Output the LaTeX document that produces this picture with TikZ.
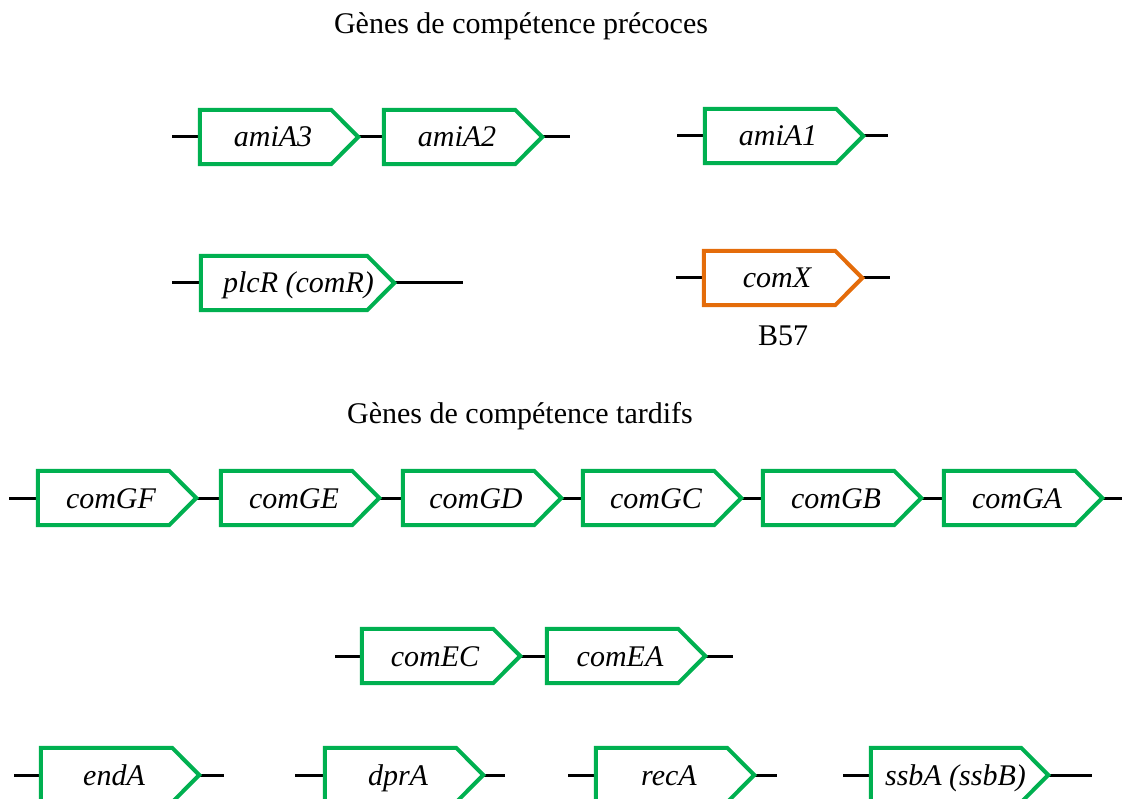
\documentclass[tikz,border=0pt]{standalone}
\usepackage{fontspec}
\setmainfont{Liberation Serif}
\definecolor{genegreen}{RGB}{0,176,80}
\definecolor{geneorange}{RGB}{228,108,10}
\begin{document}
\begin{tikzpicture}[x=1pt,y=-1pt,
  genebox/.style={minimum width=158pt, minimum height=54pt, inner sep=0pt,
    font=\fontsize{30}{36}\selectfont\itshape, text height=22pt, text depth=2pt,
    execute at begin node=\kern-12pt},
  outline/.style={line width=4pt, line join=miter},
  dna/.style={line width=3pt, black},
  title/.style={font=\fontsize{30}{36}\selectfont, anchor=base, inner sep=0pt}]
\useasboundingbox (0,0) rectangle (1122,799);

% titles
\node[title] (t1) at (521,34) {Gènes de compétence précoces};
\node[title] (t2) at (520,424) {Gènes de compétence tardifs};

% early genes
\node[genebox] (amiA3) at (279,137) {amiA3};
\node[genebox] (amiA2) at (463,137) {amiA2};
\node[genebox] (amiA1) at (784,136) {amiA1};
\node[genebox, minimum width=193pt, execute at begin node=\kern14pt] (plcR) at (297.5,283) {plcR (comR)};
\node[genebox] (comX) at (783,278) {comX};
\node[title] (b57) at (783,346) {B57};

% late genes
\node[genebox] (comGF) at (117,498) {comGF};
\node[genebox] (comGE) at (300,498) {comGE};
\node[genebox] (comGD) at (482,498) {comGD};
\node[genebox] (comGC) at (662,498) {comGC};
\node[genebox] (comGB) at (842,498) {comGB};
\node[genebox] (comGA) at (1023,498) {comGA};

\node[genebox] (comEC) at (441,656) {comEC};
\node[genebox] (comEA) at (626,656) {comEA};

\node[genebox] (endA) at (120,775) {endA};
\node[genebox] (dprA) at (404,775) {dprA};
\node[genebox] (recA) at (675,775) {recA};
\node[genebox, minimum width=177pt, execute at begin node=\kern4pt] (ssbA) at (959.5,775) {ssbA (ssbB)};

% free ends
\coordinate (a3l) at (172,137);
\coordinate (a2r) at (570,137);
\coordinate (a1l) at (677,136);
\coordinate (a1r) at (888,136);
\coordinate (pll) at (172,283);
\coordinate (plr) at (463,283);
\coordinate (cxl) at (676,278);
\coordinate (cxr) at (890,278);
\coordinate (gfl) at (9,498);
\coordinate (gar) at (1122,498);
\coordinate (ecl) at (335,656);
\coordinate (ear) at (733,656);
\coordinate (enl) at (14,775);
\coordinate (enr) at (224,775);
\coordinate (dpl) at (295,775);
\coordinate (dpr) at (505,775);
\coordinate (rcl) at (568,775);
\coordinate (rcr) at (777,775);
\coordinate (ssl) at (843,775);
\coordinate (ssr) at (1092,775);

% DNA lines
\draw[dna] (a3l) -- (amiA3.west);
\draw[dna] (amiA3.east) -- (amiA2.west);
\draw[dna] (amiA2.east) -- (a2r);
\draw[dna] (a1l) -- (amiA1.west);
\draw[dna] (amiA1.east) -- (a1r);
\draw[dna] (pll) -- (plcR.west);
\draw[dna] (plcR.east) -- (plr);
\draw[dna] (cxl) -- (comX.west);
\draw[dna] (comX.east) -- (cxr);
\draw[dna] (gfl) -- (comGF.west);
\draw[dna] (comGF.east) -- (comGE.west);
\draw[dna] (comGE.east) -- (comGD.west);
\draw[dna] (comGD.east) -- (comGC.west);
\draw[dna] (comGC.east) -- (comGB.west);
\draw[dna] (comGB.east) -- (comGA.west);
\draw[dna] (comGA.east) -- (gar);
\draw[dna] (ecl) -- (comEC.west);
\draw[dna] (comEC.east) -- (comEA.west);
\draw[dna] (comEA.east) -- (ear);
\draw[dna] (enl) -- (endA.west);
\draw[dna] (endA.east) -- (enr);
\draw[dna] (dpl) -- (dprA.west);
\draw[dna] (dprA.east) -- (dpr);
\draw[dna] (rcl) -- (recA.west);
\draw[dna] (recA.east) -- (rcr);
\draw[dna] (ssl) -- (ssbA.west);
\draw[dna] (ssbA.east) -- (ssr);

% gene outlines
\foreach \n/\c in {amiA3/genegreen, amiA2/genegreen, amiA1/genegreen, plcR/genegreen,
  comX/geneorange, comGF/genegreen, comGE/genegreen, comGD/genegreen, comGC/genegreen,
  comGB/genegreen, comGA/genegreen, comEC/genegreen, comEA/genegreen, endA/genegreen,
  dprA/genegreen, recA/genegreen, ssbA/genegreen}{
  \draw[outline, draw=\c] (\n.north west) -- ([xshift=-27pt]\n.north east) -- (\n.east)
    -- ([xshift=-27pt]\n.south east) -- (\n.south west) -- cycle;
}
\end{tikzpicture}
\end{document}
